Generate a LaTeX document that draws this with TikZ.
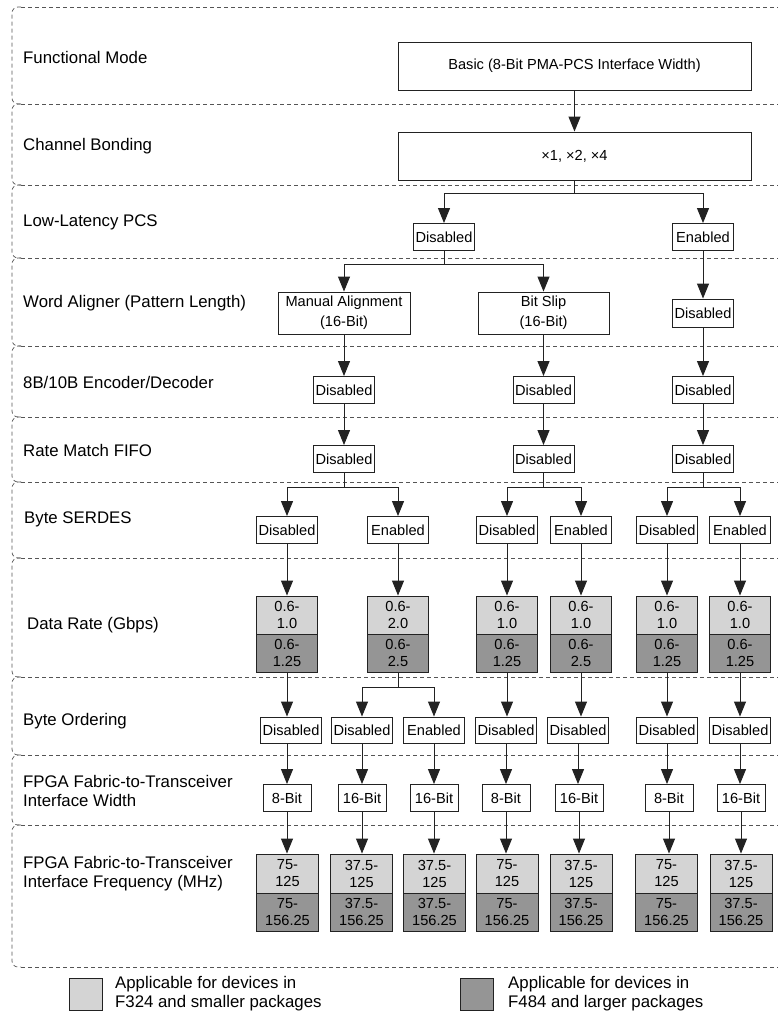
\documentclass[tikz,border=0pt]{standalone}
\usepackage{fontspec}
\setmainfont{Liberation Sans}
\usetikzlibrary{arrows.meta}
\definecolor{lg}{HTML}{D4D4D4}
\definecolor{dg}{HTML}{959595}
\definecolor{lnc}{HTML}{222222}
\definecolor{dsh}{HTML}{555555}
\tikzset{
 box/.style={draw=lnc, line width=0.9pt, fill=white, inner sep=0pt, align=center, font=\fontsize{14.6}{20}\selectfont},
 sbox/.style={box, minimum width=61pt, minimum height=27pt},
 wbox/.style={box, minimum width=48pt, minimum height=27pt},
 hi/.style={box, fill=lg, minimum width=61pt, minimum height=38pt, font=\fontsize{14.6}{17}\selectfont},
 lo/.style={box, fill=dg, minimum width=61pt, minimum height=38pt, font=\fontsize{14.6}{17}\selectfont},
 arr/.style={draw=lnc, line width=1pt, -{Triangle[width=12pt,length=15pt]}},
 lab/.style={anchor=west, align=left, inner sep=0pt, font=\fontsize{16.8}{19}\selectfont},
 band/.style={draw=dsh, dash pattern=on 4pt off 3pt, line width=0.7pt},
}
\begin{document}
\begin{tikzpicture}[x=1pt,y=-1pt]
\useasboundingbox (0,0) rectangle (778,1016);
% bands
\foreach \t/\b in {7/104,104/185,185/258,258/346,346/417,417/482,482/558,558/677,677/755,755/825,825/967}{
 \draw[band, rounded corners=6pt] (21,\t) -- (12,\t) -- (12,\b) -- (21,\b);
}
\foreach \y in {7,104,185,258,346,417,482,558,677,755,825,967}{
 \draw[band] (21,\y) -- (778,\y);
}
% labels
\node[lab] (l1) at (23,57) {Functional Mode};
\node[lab] (l2) at (23,146) {Channel Bonding};
\node[lab] (l3) at (23,222) {Low-Latency PCS};
\node[lab] (l4) at (23,303) {Word Aligner (Pattern Length)};
\node[lab] (l5) at (23,382) {8B/10B Encoder/Decoder};
\node[lab] (l6) at (23,450) {Rate Match FIFO};
\node[lab] (l7) at (24,519) {Byte SERDES};
\node[lab] (l8) at (27,625) {Data Rate (Gbps)};
\node[lab] (l9) at (23,721) {Byte Ordering};
\node[lab] (l10) at (23,791) {FPGA Fabric-to-Transceiver\\Interface Width};
\node[lab] (l11) at (23,874) {FPGA Fabric-to-Transceiver\\Interface Frequency (MHz)};
% top boxes
\node[box, minimum width=353pt, minimum height=48pt] (fm) at (574.5,66) {Basic (8-Bit PMA-PCS Interface Width)};
\node[box, minimum width=353pt, minimum height=48pt] (cb) at (574.5,156) {×1, ×2, ×4};
\node[sbox] (ll1) at (444,237) {Disabled};
\node[sbox] (ll2) at (703,237) {Enabled};
\node[box, minimum width=132pt, minimum height=42pt] (wa1) at (344,313) {Manual Alignment\\(16-Bit)};
\node[box, minimum width=131pt, minimum height=42pt] (wa2) at (543.5,313) {Bit Slip\\(16-Bit)};
\node[sbox, minimum height=28pt] (wa3) at (703,313) {Disabled};
\node[sbox] (en1) at (344,390) {Disabled};
\node[sbox] (en2) at (543.5,390) {Disabled};
\node[sbox] (en3) at (703,390) {Disabled};
\node[sbox] (rm1) at (344,459) {Disabled};
\node[sbox] (rm2) at (543.5,459) {Disabled};
\node[sbox] (rm3) at (703,459) {Disabled};
% byte serdes
\node[sbox] (bs1) at (287,530) {Disabled};
\node[sbox] (bs2) at (398,530) {Enabled};
\node[sbox] (bs3) at (507,530) {Disabled};
\node[sbox] (bs4) at (581,530) {Enabled};
\node[sbox] (bs5) at (667,530) {Disabled};
\node[sbox] (bs6) at (740,530) {Enabled};
% data rate
\node[hi] (dr1a) at (287,615) {0.6-\\1.0};
\node[lo] (dr1b) at (287,653) {0.6-\\1.25};
\node[hi] (dr2a) at (398,615) {0.6-\\2.0};
\node[lo] (dr2b) at (398,653) {0.6-\\2.5};
\node[hi] (dr3a) at (507,615) {0.6-\\1.0};
\node[lo] (dr3b) at (507,653) {0.6-\\1.25};
\node[hi] (dr4a) at (581,615) {0.6-\\1.0};
\node[lo] (dr4b) at (581,653) {0.6-\\2.5};
\node[hi] (dr5a) at (667,615) {0.6-\\1.0};
\node[lo] (dr5b) at (667,653) {0.6-\\1.25};
\node[hi] (dr6a) at (740,615) {0.6-\\1.0};
\node[lo] (dr6b) at (740,653) {0.6-\\1.25};
% byte ordering
\node[sbox, minimum height=26pt] (bo1) at (291,730) {Disabled};
\node[sbox, minimum height=26pt] (bo2) at (362,730) {Disabled};
\node[sbox, minimum height=26pt] (bo3) at (434,730) {Enabled};
\node[sbox, minimum height=26pt] (bo4) at (506,730) {Disabled};
\node[sbox, minimum height=26pt] (bo5) at (578,730) {Disabled};
\node[sbox, minimum height=26pt] (bo6) at (667,730) {Disabled};
\node[sbox, minimum height=26pt] (bo7) at (740,730) {Disabled};
% interface width
\node[wbox] (iw1) at (287,798) {8-Bit};
\node[wbox] (iw2) at (362,798) {16-Bit};
\node[wbox] (iw3) at (434,798) {16-Bit};
\node[wbox] (iw4) at (506,798) {8-Bit};
\node[wbox] (iw5) at (579,798) {16-Bit};
\node[wbox] (iw6) at (669,798) {8-Bit};
\node[wbox] (iw7) at (741,798) {16-Bit};
% frequency
\tikzset{fh/.style={hi, minimum width=62pt, minimum height=39pt}, fl/.style={lo, minimum width=62pt, minimum height=38pt}}
\node[fh] (fq1a) at (287.5,873.5) {75-\\125};
\node[fl] (fq1b) at (287.5,912) {75-\\156.25};
\node[fh] (fq2a) at (361.5,873.5) {37.5-\\125};
\node[fl] (fq2b) at (361.5,912) {37.5-\\156.25};
\node[fh] (fq3a) at (434.5,873.5) {37.5-\\125};
\node[fl] (fq3b) at (434.5,912) {37.5-\\156.25};
\node[fh] (fq4a) at (507,873.5) {75-\\125};
\node[fl] (fq4b) at (507,912) {75-\\156.25};
\node[fh] (fq5a) at (581,873.5) {37.5-\\125};
\node[fl] (fq5b) at (581,912) {37.5-\\156.25};
\node[fh] (fq6a) at (666.5,873.5) {75-\\125};
\node[fl] (fq6b) at (666.5,912) {75-\\156.25};
\node[fh] (fq7a) at (741,873.5) {37.5-\\125};
\node[fl] (fq7b) at (741,912) {37.5-\\156.25};
% legend
\node[box, fill=lg, minimum width=33pt, minimum height=32pt] (lg1) at (85.5,994) {};
\node[lab] (lt1) at (115,994) {Applicable for devices in\\F324 and smaller packages};
\node[box, fill=dg, minimum width=33pt, minimum height=32pt] (lg2) at (476.5,994) {};
\node[lab] (lt2) at (508,994) {Applicable for devices in\\F484 and larger packages};
% branch points
\coordinate (b1) at (574.5,194);
\coordinate (b2) at (444,264);
\coordinate (b3) at (344,487);
\coordinate (b4) at (543.5,487);
\coordinate (b5) at (703,487);
\coordinate (b6) at (398,687);
% connectors
\draw[arr] (fm) -- (cb);
\draw[arr] (cb.south) -- (b1) -| (ll1.north);
\draw[arr] (cb.south) -- (b1) -| (ll2.north);
\draw[arr] (ll1.south) -- (b2) -| (wa1.north);
\draw[arr] (ll1.south) -- (b2) -| (wa2.north);
\draw[arr] (ll2) -- (wa3);
\draw[arr] (wa1) -- (en1);
\draw[arr] (wa2) -- (en2);
\draw[arr] (wa3) -- (en3);
\draw[arr] (en1) -- (rm1);
\draw[arr] (en2) -- (rm2);
\draw[arr] (en3) -- (rm3);
\draw[arr] (rm1.south) -- (b3) -| (bs1.north);
\draw[arr] (rm1.south) -- (b3) -| (bs2.north);
\draw[arr] (rm2.south) -- (b4) -| (bs3.north);
\draw[arr] (rm2.south) -- (b4) -| (bs4.north);
\draw[arr] (rm3.south) -- (b5) -| (bs5.north);
\draw[arr] (rm3.south) -- (b5) -| (bs6.north);
\foreach \i in {1,...,6}{\draw[arr] (bs\i) -- (dr\i a);}
\draw[arr] (dr1b.south) -- (dr1b.south |- bo1.north);
\draw[arr] (dr2b.south) -- (b6) -| (bo2.north);
\draw[arr] (dr2b.south) -- (b6) -| (bo3.north);
\draw[arr] (dr3b.south) -- (dr3b.south |- bo4.north);
\draw[arr] (dr4b.south) -- (dr4b.south |- bo5.north);
\draw[arr] (dr5b.south) -- (dr5b.south |- bo6.north);
\draw[arr] (dr6b.south) -- (dr6b.south |- bo7.north);
\draw[arr] (iw1.north |- bo1.south) -- (iw1.north);
\foreach \i in {2,...,7}{\draw[arr] (bo\i.south) -- (bo\i.south |- iw\i.north);}
\foreach \i in {1,...,7}{\draw[arr] (iw\i.south) -- (iw\i.south |- fq\i a.north);}
\end{tikzpicture}
\end{document}
